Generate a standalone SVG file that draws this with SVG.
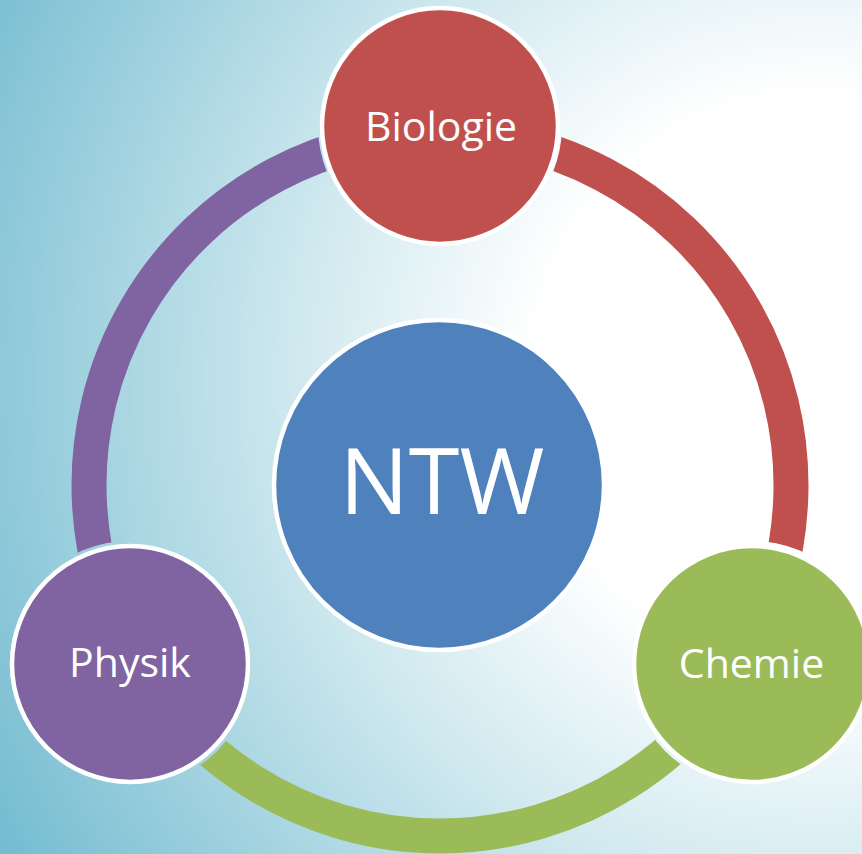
<svg xmlns="http://www.w3.org/2000/svg" width="862" height="854" viewBox="0 0 862 854">
  <defs>
    <radialGradient id="bg" gradientUnits="userSpaceOnUse" cx="820" cy="380" r="950">
      <stop offset="0" stop-color="#ffffff"/>
      <stop offset="0.3" stop-color="#ffffff"/>
      <stop offset="0.55" stop-color="#d0e9ef"/>
      <stop offset="1" stop-color="#72bbd0"/>
    </radialGradient>
    <mask id="cut" maskUnits="userSpaceOnUse" x="0" y="0" width="862" height="854">
      <rect x="0" y="0" width="862" height="854" fill="#fff"/>
      <circle cx="440" cy="126" r="122" fill="#000"/>
      <circle cx="130" cy="664" r="123" fill="#000"/>
      <circle cx="752" cy="664" r="123" fill="#000"/>
    </mask>
    <style>
      .arc { fill: none; stroke-width: 35; stroke-linecap: butt; }
      .node { stroke: #ffffff; stroke-width: 4.5; }
      .lbl { fill: #ffffff; font-family: "Open Sans", "Noto Sans", "Liberation Sans", sans-serif; font-size: 41px; text-anchor: middle; }
    </style>
  </defs>
  <rect x="0" y="0" width="862" height="854" fill="url(#bg)"/>
  <g id="connectors" mask="url(#cut)">
    <path class="arc" stroke="#c0504d" d="M440,134 A351,351 0 0 1 743.97,660.5"/>
    <path class="arc" stroke="#9bbb59" d="M743.97,660.5 A351,351 0 0 1 136.03,660.5"/>
    <path class="arc" stroke="#8064a2" d="M136.03,660.5 A351,351 0 0 1 440,134"/>
  </g>
  <g id="ntw">
    <circle class="node" cx="439" cy="485" r="165" fill="#4f81bd"/>
    <text class="lbl" x="442" y="514" style="font-size:92px">NTW</text>
  </g>
  <g id="biologie">
    <circle class="node" cx="440" cy="126" r="118" fill="#c0504d"/>
    <text class="lbl" x="441" y="141">Biologie</text>
  </g>
  <g id="physik">
    <circle class="node" cx="130" cy="664" r="118" fill="#8064a2"/>
    <text class="lbl" x="130" y="677">Physik</text>
  </g>
  <g id="chemie">
    <circle class="node" cx="752" cy="664" r="118" fill="#9bbb59"/>
    <text class="lbl" x="751.5" y="678">Chemie</text>
  </g>
</svg>
